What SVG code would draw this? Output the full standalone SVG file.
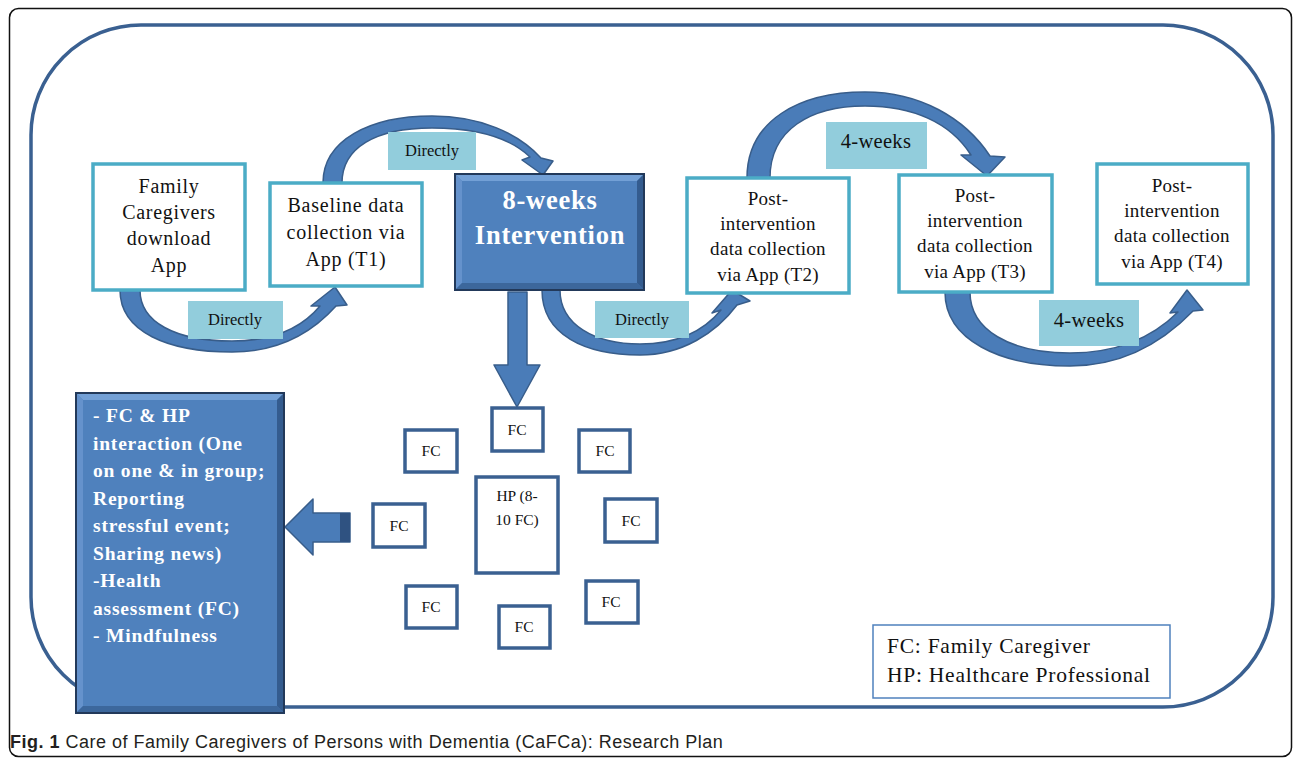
<svg xmlns="http://www.w3.org/2000/svg" width="1293" height="759" viewBox="0 0 1293 759">
<style>
.frame{fill:none;stroke:#3A6091;stroke-width:3.5}
.tbox{fill:#fff;stroke:#4BACC6;stroke-width:3.5}
.fc{fill:#fff;stroke:#3A6091;stroke-width:3.5}
.lbl{fill:#92CDDC}
.arc{fill:#4A7CB8;stroke:#385D8A;stroke-width:1.5;stroke-linejoin:round}
.t{font-family:"Liberation Serif",serif;fill:#111;text-anchor:middle}
.ts{font-family:"Liberation Serif",serif;fill:#111;text-anchor:start}
.w{font-family:"Liberation Serif",serif;fill:#fff;font-weight:bold}
.bvT{fill:#73A0D6}.bvL{fill:#6592CC}.bvB{fill:#3C679C}.bvR{fill:#345C8F}
</style>
<rect width="1293" height="759" fill="#fff"/>
<rect x="9.5" y="8.5" width="1282" height="748" rx="9" fill="none" stroke="#111" stroke-width="1.5"/>
<rect class="frame" x="31" y="25" width="1242" height="682" rx="110"/>

<g id="connectors">
<path class="arc" d="M120,290 C120,332 168,352 232,352 C275,352 310,335 336,306 L347,305 L335,287 L311,306 L320,306 C300,330 270,341 232,341 C175,341 140,322 140,290 Z"/>
<path class="arc" d="M323,183 C323,140 370,116 432,116 C480,116 518,133 541,158 L553,161 L543,175 L522,160 L530,157 C510,138 478,128 432,128 C375,128 342,148 342,183 Z"/>
<path class="arc" d="M542,290 C542,335 585,355 640,355 C682,355 716,333 737,305 L750,301 L732,290 L712,313 L721,310 C703,332 675,344 640,344 C595,344 560,325 560,290 Z"/>
<path class="arc" d="M747,178 C747,120 800,92 865,92 C920,92 965,118 990,156 L1005,157 L987,176 L961,155 L971,155 C950,122 912,106 865,106 C810,106 770,130 770,178 Z"/>
<path class="arc" d="M945,292 C945,340 1000,366 1070,366 C1120,366 1160,345 1193,311 L1203,310 L1187,290 L1170,313 L1178,312 C1150,340 1115,353 1070,353 C1010,353 970,330 970,292 Z"/>
<path class="arc" d="M508,292 L527,292 L527,365 L540,365 L517,407 L494,365 L508,365 Z"/>
<path class="arc" d="M350,513 L313,513 L313,499 L285,527 L313,555 L313,542 L350,542 Z"/>
<rect x="340" y="513" width="10" height="29" fill="#2F5281"/>
</g>

<g id="labels">
<rect class="lbl" x="188" y="301" width="95" height="38"/>
<text class="t" x="235" y="325" font-size="16.5">Directly</text>
<rect class="lbl" x="388" y="132" width="88" height="38"/>
<text class="t" x="432" y="156" font-size="16.5">Directly</text>
<rect class="lbl" x="595" y="301" width="94" height="37"/>
<text class="t" x="642" y="325" font-size="16.5">Directly</text>
<rect class="lbl" x="826" y="122" width="101" height="47"/>
<text class="t" x="876" y="148" font-size="20.5" letter-spacing="0.3">4-weeks</text>
<rect class="lbl" x="1039" y="300" width="100" height="46"/>
<text class="t" x="1089" y="327" font-size="20.5" letter-spacing="0.3">4-weeks</text>
</g>

<g id="n1">
<rect class="tbox" x="93" y="164" width="152" height="126"/>
<text class="t" font-size="20" letter-spacing="0.7"><tspan x="169" y="193">Family</tspan><tspan x="169" y="219">Caregivers</tspan><tspan x="169" y="245">download</tspan><tspan x="169" y="272">App</tspan></text>
</g>
<g id="n2">
<rect class="tbox" x="270" y="183" width="152" height="103"/>
<text class="t" font-size="20" letter-spacing="0.75"><tspan x="346" y="212">Baseline data</tspan><tspan x="346" y="239">collection via</tspan><tspan x="346" y="266">App (T1)</tspan></text>
</g>
<g id="n3">
<rect x="455" y="174" width="189" height="116" fill="#4F81BD"/>
<polygon class="bvT" points="455,174 644,174 637,181 462,181"/>
<polygon class="bvL" points="455,174 462,181 462,283 455,290"/>
<polygon class="bvB" points="455,290 462,283 637,283 644,290"/>
<polygon class="bvR" points="644,174 644,290 637,283 637,181"/>
<rect x="455" y="174" width="189" height="116" fill="none" stroke="#22395A" stroke-width="2"/>
<text class="w" font-size="26.5" letter-spacing="0.75" text-anchor="middle"><tspan x="550" y="209">8-weeks</tspan><tspan x="550" y="244">Intervention</tspan></text>
</g>
<g id="n4">
<rect class="tbox" x="687" y="178" width="162" height="115"/>
<text class="t" font-size="19" letter-spacing="0.3"><tspan x="768" y="205">Post-</tspan><tspan x="768" y="230">intervention</tspan><tspan x="768" y="255">data collection</tspan><tspan x="768" y="281">via App (T2)</tspan></text>
</g>
<g id="n5">
<rect class="tbox" x="899" y="175" width="153" height="117"/>
<text class="t" font-size="19" letter-spacing="0.3"><tspan x="975" y="202">Post-</tspan><tspan x="975" y="227">intervention</tspan><tspan x="975" y="252">data collection</tspan><tspan x="975" y="278">via App (T3)</tspan></text>
</g>
<g id="n6">
<rect class="tbox" x="1097" y="164" width="151" height="120"/>
<text class="t" font-size="19" letter-spacing="0.3"><tspan x="1172" y="192">Post-</tspan><tspan x="1172" y="217">intervention</tspan><tspan x="1172" y="242">data collection</tspan><tspan x="1172" y="268">via App (T4)</tspan></text>
</g>

<g id="activities">
<rect x="76" y="393" width="208" height="320" fill="#4F81BD"/>
<polygon class="bvT" points="76,393 284,393 277,400 83,400"/>
<polygon class="bvL" points="76,393 83,400 83,706 76,713"/>
<polygon class="bvB" points="76,713 83,706 277,706 284,713"/>
<polygon class="bvR" points="284,393 284,713 277,706 277,400"/>
<rect x="76" y="393" width="208" height="320" fill="none" stroke="#22395A" stroke-width="2"/>
<text class="w" font-size="19.5" letter-spacing="0.8"><tspan x="93" y="422">- FC &amp; HP</tspan><tspan x="93" y="450">interaction (One</tspan><tspan x="93" y="477">on one &amp; in group;</tspan><tspan x="93" y="505">Reporting</tspan><tspan x="93" y="532">stressful event;</tspan><tspan x="93" y="560">Sharing news)</tspan><tspan x="93" y="587">-Health</tspan><tspan x="93" y="615">assessment (FC)</tspan><tspan x="93" y="642">- Mindfulness</tspan></text>
</g>

<g id="hp">
<rect class="fc" x="476" y="477" width="82" height="96"/>
<text class="t" font-size="15.5"><tspan x="517" y="501">HP (8-</tspan><tspan x="517" y="525">10 FC)</tspan></text>
</g>
<g id="fc1"><rect class="fc" x="492" y="408" width="51" height="43"/><text class="t" x="517" y="435" font-size="15.5">FC</text></g>
<g id="fc2"><rect class="fc" x="405" y="430" width="52" height="42"/><text class="t" x="431" y="456" font-size="15.5">FC</text></g>
<g id="fc3"><rect class="fc" x="579" y="430" width="51" height="42"/><text class="t" x="605" y="456" font-size="15.5">FC</text></g>
<g id="fc4"><rect class="fc" x="373" y="504" width="52" height="43"/><text class="t" x="399" y="531" font-size="15.5">FC</text></g>
<g id="fc5"><rect class="fc" x="605" y="499" width="52" height="43"/><text class="t" x="631" y="526" font-size="15.5">FC</text></g>
<g id="fc6"><rect class="fc" x="406" y="586" width="51" height="42"/><text class="t" x="431" y="612" font-size="15.5">FC</text></g>
<g id="fc7"><rect class="fc" x="586" y="581" width="52" height="42"/><text class="t" x="611" y="607" font-size="15.5">FC</text></g>
<g id="fc8"><rect class="fc" x="499" y="606" width="51" height="42"/><text class="t" x="524" y="632" font-size="15.5">FC</text></g>

<g id="legend">
<rect x="873" y="625" width="297" height="73" fill="#fff" stroke="#4F81BD" stroke-width="1.5"/>
<text class="ts" font-size="21.5" letter-spacing="0.75"><tspan x="887" y="653">FC: Family Caregiver</tspan><tspan x="887" y="682">HP: Healthcare Professional</tspan></text>
</g>

<text font-family="'Liberation Sans',sans-serif" font-size="18" fill="#231F20" x="10" y="748" letter-spacing="0.5"><tspan font-weight="bold">Fig. 1</tspan> Care of Family Caregivers of Persons with Dementia (CaFCa): Research Plan</text>
</svg>
